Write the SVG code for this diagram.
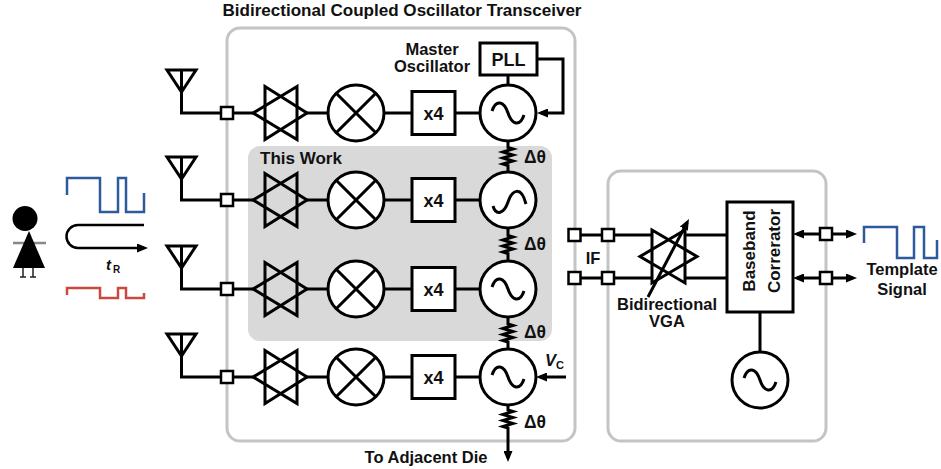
<svg xmlns="http://www.w3.org/2000/svg" xmlns:xlink="http://www.w3.org/1999/xlink" width="941" height="469" viewBox="0 0 941 469">
  <style>
    .w{fill:none;stroke:#000;stroke-width:3;stroke-linejoin:miter}
    .b{fill:#fff;stroke:#000;stroke-width:3}
    .sq{fill:#fff;stroke:#000;stroke-width:2.5}
    .t{font-family:"Liberation Sans",Arial,Helvetica,sans-serif;font-weight:bold;font-size:16.5px;fill:#111}
    .dt{font-size:17.5px}
    .frame{fill:none;stroke:#c4c4c4;stroke-width:3}
    .arr{marker-end:url(#ah)}
    .pulse{fill:none;stroke-width:2.5}
  </style>
  <defs>
    <marker id="ah" viewBox="0 0 11 9" refX="7" refY="4.5" markerWidth="11" markerHeight="9" markerUnits="userSpaceOnUse" orient="auto-start-reverse">
      <path d="M0,0 L11,4.5 L0,9 z" fill="#000"/>
    </marker>
    <!-- bidirectional amplifier: two overlapping triangles -->
    <g id="amp">
      <polygon class="w" points="-15,-26.5 27,0 -15,26.5"/>
      <polygon class="w" points="17,-26.5 -27,0 17,26.5"/>
    </g>
    <!-- mixer -->
    <g id="mixer">
      <circle class="b" r="28"/>
      <path class="w" d="M-19.8,-19.8 L19.8,19.8 M19.8,-19.8 L-19.8,19.8"/>
    </g>
    <!-- oscillator -->
    <g id="osc">
      <circle class="b" r="28"/>
      <path class="w" d="M-16,-2 C-12,-14 -4,-12 0,0 C4,12 12,14 16,2"/>
    </g>
    <g id="osc2">
      <circle class="b" r="28"/>
      <path class="w" d="M-15,6 C-12,16 -4,14 0,2 C4,-10 13,-15 18,4"/>
    </g>
    <!-- frequency multiplier -->
    <g id="mul">
      <rect class="b" x="-21.5" y="-21.5" width="43" height="43"/>
      <text class="t" y="6.5" text-anchor="middle" style="font-size:18px">x4</text>
    </g>
    <!-- antenna -->
    <g id="ant">
      <polygon class="w" points="-14.5,0 14.5,0 0,22"/>
      <path class="w" d="M0,0 V22"/>
    </g>
    <rect id="port" class="sq" x="-6" y="-6" width="12" height="12"/>
  </defs>

  <rect width="941" height="469" fill="#fff"/>

  <!-- frames -->
  <g id="frames">
    <rect class="frame" x="227" y="28" width="348" height="413" rx="13"/>
    <rect class="frame" x="608" y="171" width="218" height="270" rx="13"/>
    <rect x="248" y="146" width="304" height="195" rx="12" fill="#d9d9d9"/>
  </g>

  <text class="t" x="402" y="16" text-anchor="middle" style="font-size:17px" textLength="359" lengthAdjust="spacingAndGlyphs">Bidirectional Coupled Oscillator Transceiver</text>
  <text class="t" x="260" y="164" style="font-size:17px">This Work</text>

  <!-- target and echo -->
  <g id="target">
    <path d="M13,243 H46" stroke="#888" stroke-width="2.5"/>
    <circle cx="25" cy="218.5" r="12.5" fill="#000"/>
    <polygon points="29,231 13,268 45,268" fill="#000"/>
    <path d="M23,268 V277 M33,268 V277 M20,277 H26 M30,277 H36" stroke="#222" stroke-width="1.5" fill="none"/>
  </g>
  <g id="pulses">
    <path class="pulse" stroke="#2e5a9c" d="M67,195 V178 H100 V212 H118 V178 H126 V212 H144 V193"/>
    <path class="pulse" stroke="#c9483f" d="M67,295 V288 H100 V298 H118 V288 H126 V298 H144 V293"/>
    <path d="M144,225 H78 A11.5,11.5 0 0 0 78,248 H144" fill="none" stroke="#000" stroke-width="2.5" marker-end="url(#ah)"/>
    <text class="t" x="106" y="270" style="font-size:15px;font-style:italic">t</text>
    <text class="t" x="113" y="273" style="font-size:10px">R</text>
  </g>

  <!-- connectors -->
  <g id="connectors">
    <path class="w" d="M181.5,70 V113 H221 M233,113 H253 M307,113 H328 M384,113 H412 M455,113 H480"/>
    <path class="w" d="M181.5,157 V200 H221 M233,200 H253 M307,200 H328 M384,200 H412 M455,200 H480"/>
    <path class="w" d="M181.5,246 V289 H221 M233,289 H253 M307,289 H328 M384,289 H412 M455,289 H480"/>
    <path class="w" d="M181.5,334 V377 H221 M233,377 H253 M307,377 H328 M384,377 H412 M455,377 H480"/>
    <!-- PLL loop -->
    <path class="w" d="M508,75 V85"/>
    <path class="w arr" d="M537,59 H563 V113 H541"/>
    <!-- coupling resistors -->
    <path class="w" d="M508,141 V147.5 l5,1.5 l-10,3 l10,3 l-10,3 l10,3 l-10,3 l5,1.5 V172"/>
    <path class="w" d="M508,228 V235.5 l5,1.5 l-10,3 l10,3 l-10,3 l10,3 l-10,3 l5,1.5 V261"/>
    <path class="w" d="M508,317 V324 l5,1.5 l-10,3 l10,3 l-10,3 l10,3 l-10,3 l5,1.5 V349"/>
    <path class="w arr" d="M508,405 V410 l5,1.5 l-10,3 l10,3 l-10,3 l10,3 l-10,3 l5,1.5 V458"/>
    <!-- tuning voltage -->
    <path class="w arr" d="M566,377 H540"/>
    <!-- IF path -->
    <path class="w" d="M580,235 H603 M613,235 H652 M685,235 H727"/>
    <path class="w" d="M580,278 H603 M613,278 H652 M685,278 H727"/>
    <!-- template I/O -->
    <path class="w" d="M797,234 H853" marker-start="url(#ah)" marker-end="url(#ah)"/>
    <path class="w" d="M797,278 H853" marker-start="url(#ah)" marker-end="url(#ah)"/>
    <path class="w" d="M760,312 V353"/>
  </g>

  <!-- antennas -->
  <g id="antenna-1"><use xlink:href="#ant" x="181.5" y="70"/></g>
  <g id="antenna-2"><use xlink:href="#ant" x="181.5" y="157"/></g>
  <g id="antenna-3"><use xlink:href="#ant" x="181.5" y="246"/></g>
  <g id="antenna-4"><use xlink:href="#ant" x="181.5" y="334"/></g>

  <!-- ports -->
  <g id="ports">
    <use xlink:href="#port" x="227" y="113"/>
    <use xlink:href="#port" x="227" y="200"/>
    <use xlink:href="#port" x="227" y="289"/>
    <use xlink:href="#port" x="227" y="377"/>
    <use xlink:href="#port" x="574.5" y="235"/>
    <use xlink:href="#port" x="608" y="235"/>
    <use xlink:href="#port" x="574.5" y="278"/>
    <use xlink:href="#port" x="608" y="278"/>
    <use xlink:href="#port" x="826" y="234"/>
    <use xlink:href="#port" x="826" y="278"/>
  </g>

  <!-- channel 1 -->
  <g id="amp-1"><use xlink:href="#amp" x="280" y="113"/></g>
  <g id="mixer-1"><use xlink:href="#mixer" x="356" y="113"/></g>
  <g id="mul-1"><use xlink:href="#mul" x="433.5" y="113"/></g>
  <g id="osc-1"><use xlink:href="#osc" x="508" y="113"/></g>
  <!-- channel 2 -->
  <g id="amp-2"><use xlink:href="#amp" x="280" y="200"/></g>
  <g id="mixer-2"><use xlink:href="#mixer" x="356" y="200"/></g>
  <g id="mul-2"><use xlink:href="#mul" x="433.5" y="200"/></g>
  <g id="osc-2"><use xlink:href="#osc2" x="508" y="200"/></g>
  <!-- channel 3 -->
  <g id="amp-3"><use xlink:href="#amp" x="280" y="289"/></g>
  <g id="mixer-3"><use xlink:href="#mixer" x="356" y="289"/></g>
  <g id="mul-3"><use xlink:href="#mul" x="433.5" y="289"/></g>
  <g id="osc-3"><use xlink:href="#osc" x="508" y="289"/></g>
  <!-- channel 4 -->
  <g id="amp-4"><use xlink:href="#amp" x="280" y="377"/></g>
  <g id="mixer-4"><use xlink:href="#mixer" x="356" y="377"/></g>
  <g id="mul-4"><use xlink:href="#mul" x="433.5" y="377"/></g>
  <g id="osc-4"><use xlink:href="#osc" x="508" y="377"/></g>

  <g id="pll">
    <rect class="b" x="480" y="43" width="57" height="32"/>
    <text class="t" x="508.5" y="65.5" text-anchor="middle" style="font-size:18px">PLL</text>
  </g>
  <g id="master-label">
    <text class="t" x="432" y="55" text-anchor="middle">Master</text>
    <text class="t" x="432" y="72" text-anchor="middle">Oscillator</text>
  </g>

  <g id="phase-labels">
    <text class="t dt" x="524" y="163">Δθ</text>
    <text class="t dt" x="524" y="250">Δθ</text>
    <text class="t dt" x="524" y="338">Δθ</text>
    <text class="t dt" x="524" y="428">Δθ</text>
  </g>
  <g id="vc">
    <text class="t" x="545" y="366" style="font-style:italic">V</text>
    <text class="t" x="556" y="369" style="font-size:11px">C</text>
  </g>
  <text class="t" x="426" y="463" text-anchor="middle">To Adjacent Die</text>

  <!-- receiver back end -->
  <text class="t" x="593" y="264" text-anchor="middle">IF</text>
  <g id="vga">
    <polygon class="w" points="652,230 697,256.5 652,283"/>
    <polygon class="w" points="685,230 640,256.5 685,283"/>
    <path class="w arr" d="M648,297 L687.1,222.5"/>
  </g>
  <g id="vga-label">
    <text class="t" x="667" y="310" text-anchor="middle">Bidirectional</text>
    <text class="t" x="667" y="327" text-anchor="middle">VGA</text>
  </g>
  <g id="correlator">
    <rect class="b" x="727" y="202" width="66" height="110"/>
    <text class="t" transform="translate(755,251) rotate(-90)" text-anchor="middle" style="font-size:17px">Baseband</text>
    <text class="t" transform="translate(780,251) rotate(-90)" text-anchor="middle" style="font-size:17px">Correrator</text>
  </g>
  <g id="lo"><use xlink:href="#osc" x="760" y="380"/></g>
  <g id="template">
    <path class="pulse" stroke="#2e5a9c" d="M864,243 V227 H897 V258 H914 V227 H924 V258 H937 V240"/>
    <text class="t" x="902" y="275" text-anchor="middle">Template</text>
    <text class="t" x="902" y="295" text-anchor="middle">Signal</text>
  </g>
</svg>
